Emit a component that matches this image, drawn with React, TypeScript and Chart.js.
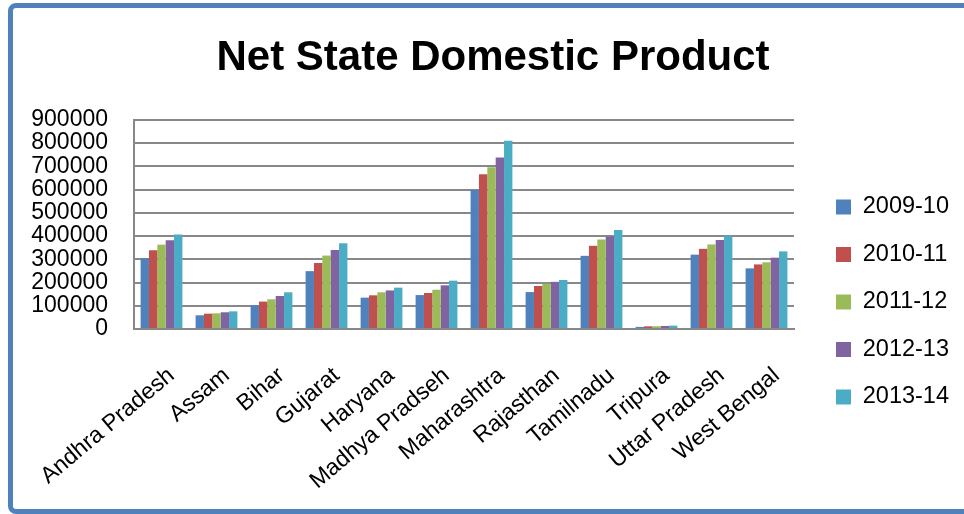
import { useEffect, useRef } from "react";
import { Chart, registerables } from "chart.js";

Chart.register(...registerables);

const categories = [
  "Andhra Pradesh",
  "Assam",
  "Bihar",
  "Gujarat",
  "Haryana",
  "Madhya Pradseh",
  "Maharashtra",
  "Rajasthan",
  "Tamilnadu",
  "Tripura",
  "Uttar Pradesh",
  "West Bengal",
];

const seriesNames = ["2009-10", "2010-11", "2011-12", "2012-13", "2013-14"];

const s2009 = [305000, 59000, 102000, 249000, 135000, 146000, 599000, 159000, 315000, 9000, 320000, 261000];
const s2010 = [339000, 66000, 118000, 284000, 145000, 155000, 666000, 185000, 358000, 11500, 345000, 278000];
const s2011 = [363000, 67500, 128000, 316000, 158000, 169000, 696000, 195000, 385000, 12000, 364000, 287000];
const s2012 = [382000, 72000, 142000, 340000, 166000, 188000, 738000, 203000, 398000, 13000, 383000, 307000];
const s2013 = [407000, 76000, 158000, 369000, 178000, 208000, 810000, 211000, 426000, 14500, 401000, 334000];

const yTicks = [0, 100000, 200000, 300000, 400000, 500000, 600000, 700000, 800000, 900000];

const colors = ["#4F81BD", "#C0504D", "#9BBB59", "#8064A2", "#4BACC6"];

const FONT = "'Liberation Sans', Arial, sans-serif";

const CANVAS_W = 990;
const CANVAS_H = 600;

export default function App() {
  const ref = useRef<HTMLCanvasElement>(null);

  useEffect(() => {
    const values = [s2009, s2010, s2011, s2012, s2013];
    const chart = new Chart(ref.current as HTMLCanvasElement, {
      type: "bar",
      data: {
        labels: categories,
        datasets: seriesNames.map((name, i) => ({
          label: name,
          data: values[i],
          backgroundColor: colors[i],
          borderWidth: 0,
          categoryPercentage: 0.76,
          barPercentage: 1.0,
        })),
      },
      options: {
        responsive: false,
        animation: false,
        layout: { padding: { top: 10, left: 20, right: 24, bottom: 6 } },
        plugins: {
          title: {
            display: true,
            text: "Net State Domestic Product",
            color: "#000",
            font: { family: FONT, size: 42, weight: "bold" },
            padding: { top: 23.5, bottom: 36 },
          },
          legend: {
            position: "right",
            labels: {
              boxWidth: 15,
              boxHeight: 15,
              padding: 24,
              color: "#000",
              font: { family: FONT, size: 23.5 },
            },
          },
          tooltip: { enabled: false },
        },
        scales: {
          x: {
            grid: { display: false },
            border: { display: true, color: "#888888", width: 2 },
            ticks: {
              autoSkip: false,
              minRotation: 40,
              maxRotation: 40,
              padding: 25,
              labelOffset: 10,
              color: "#000",
              font: { family: FONT, size: 23 },
            },
            afterFit: (scale: any) => {
              scale.height = 265;
            },
          },
          y: {
            min: 0,
            max: 900000,
            grid: { color: "#888888", lineWidth: 2, drawTicks: false },
            border: { display: true, color: "#888888", width: 2 },
            afterBuildTicks: (scale: any) => {
              scale.ticks = yTicks.map((v) => ({ value: v }));
            },
            ticks: {
              autoSkip: false,
              padding: 26,
              color: "#000",
              font: { family: FONT, size: 23 },
              callback: (v: any) => String(v),
            },
            afterFit: (scale: any) => {
              scale.width = 114;
            },
          },
        },
      },
      plugins: [
        {
          id: "legendGeometry",
          afterInit(c: any) {
            const lg = c.legend;
            if (lg && !lg.__widened) {
              const orig = lg.fit;
              lg.fit = function (this: any) {
                orig.call(this);
                this.width = 172;
              };
              lg.__widened = true;
            }
          },
          afterLayout(c: any) {
            if (c.legend) {
              c.legend.left += 18;
              c.legend.right += 18;
            }
          },
        },
      ],
    });
    return () => chart.destroy();
  }, []);

  return (
    <div
      style={{
        position: "absolute",
        left: 0,
        top: 0,
        width: 964,
        height: 514,
        overflow: "hidden",
        background: "#fff",
      }}
    >
      <div
        style={{
          position: "absolute",
          left: 8,
          top: 3,
          width: 1000,
          height: 511,
          boxSizing: "border-box",
          border: "5px solid #4F81BD",
          borderRadius: 8,
        }}
      />
      <canvas
        ref={ref}
        width={CANVAS_W}
        height={CANVAS_H}
        style={{ position: "absolute", left: 0, top: 0, width: CANVAS_W, height: CANVAS_H }}
      />
    </div>
  );
}
